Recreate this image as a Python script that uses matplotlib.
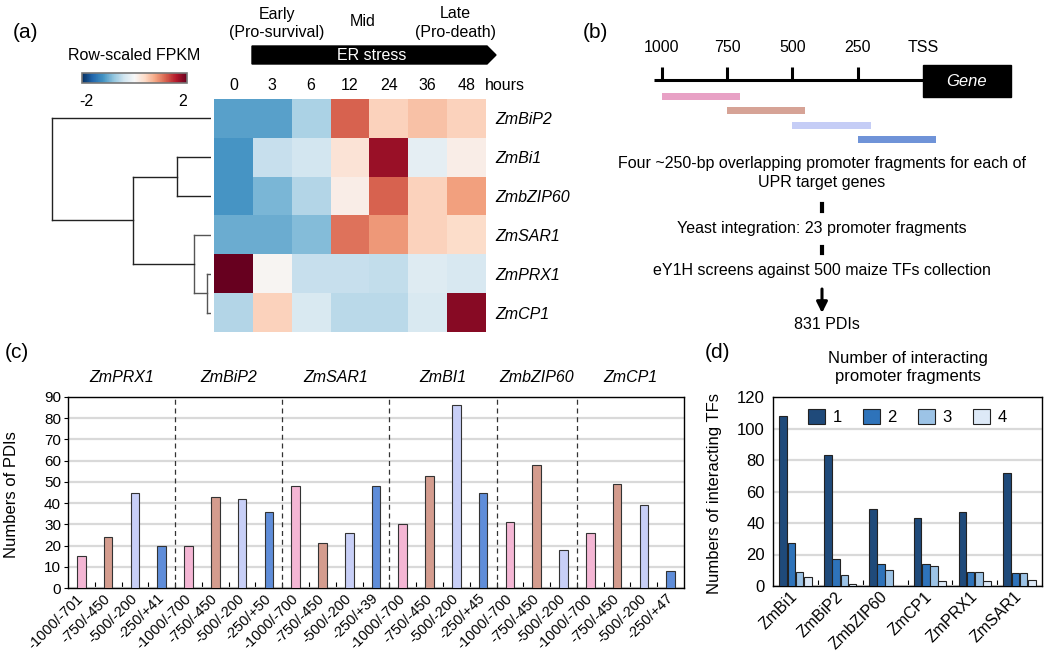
import matplotlib
matplotlib.use("Agg")
import matplotlib.pyplot as plt
import matplotlib.transforms as mtrans
import numpy as np
from matplotlib.patches import Polygon, Rectangle

plt.rcParams["font.family"] = ["Liberation Sans", "DejaVu Sans"]
plt.rcParams["axes.unicode_minus"] = False

# ---------------- data ----------------
# (a) heatmap, row-scaled FPKM
hm_genes = ["ZmBiP2", "ZmBi1", "ZmbZIP60", "ZmSAR1", "ZmPRX1", "ZmCP1"]
hm_hours = ["0", "3", "6", "12", "24", "36", "48"]
hm_values = np.array([
    [-1.2, -1.2, -0.7, 1.3, 0.5, 0.65, 0.5],
    [-1.3, -0.5, -0.4, 0.3, 1.9, -0.2, 0.15],
    [-1.3, -1.0, -0.65, 0.15, 1.3, 0.5, 0.9],
    [-1.1, -1.1, -0.95, 1.2, 0.95, 0.5, 0.4],
    [2.2, 0.05, -0.5, -0.5, -0.55, -0.28, -0.35],
    [-0.65, 0.5, -0.33, -0.6, -0.6, -0.33, 2.0],
])
# dendrogram merges (child a, child b, height); leaves 0-5, new nodes from 6
dendro_merges = [(4, 5, 0.025), (3, 6, 0.108), (1, 2, 0.215), (8, 7, 0.49), (0, 9, 1.0)]
stages = ["Early\n(Pro-survival)", "Mid", "Late\n(Pro-death)"]

# (b) promoter fragments (bp relative to TSS)
scale_ticks = [-1000, -750, -500, -250, 0]
scale_labels = ["1000", "750", "500", "250", "TSS"]
frag_start = [-1000, -750, -500, -250]
frag_end = [-700, -450, -200, 50]
frag_colors = ["#e8a1c5", "#d6a396", "#c5cdf6", "#6f93d8"]
flow_steps = [
    "Four ~250-bp overlapping promoter fragments for each of\nUPR target genes",
    "Yeast integration: 23 promoter fragments",
    "eY1H screens against 500 maize TFs collection",
    "831 PDIs",
]

# (c) PDIs per promoter fragment
c_genes = ["ZmPRX1", "ZmBiP2", "ZmSAR1", "ZmBI1", "ZmbZIP60", "ZmCP1"]
c_labels = [
    ["-1000/-701", "-750/-450", "-500/-200", "-250/+41"],
    ["-1000/-700", "-750/-450", "-500/-200", "-250/+50"],
    ["-1000/-700", "-750/-450", "-500/-200", "-250/+39"],
    ["-1000/-700", "-750/-450", "-500/-200", "-250/+45"],
    ["-1000/-700", "-750/-450", "-500/-200"],
    ["-1000/-700", "-750/-450", "-500/-200", "-250/+47"],
]
c_pdis = [[15, 24, 45, 20], [20, 43, 42, 36], [48, 21, 26, 48],
          [30, 53, 86, 45], [31, 58, 18], [26, 49, 39, 8]]
c_colors = ["#f4b6d4", "#d49c8e", "#c8cff7", "#5f8dd9"]

# (d) interacting TFs by number of fragments bound
d_genes = ["ZmBi1", "ZmBiP2", "ZmbZIP60", "ZmCP1", "ZmPRX1", "ZmSAR1"]
d_n1 = [108, 83, 49, 43, 47, 72]
d_n2 = [27, 17, 14, 14, 9, 8]
d_n3 = [9, 7, 10, 13, 9, 8]
d_n4 = [6, 1, 0, 3, 3, 4]
d_series = ["1", "2", "3", "4"]
d_colors = ["#1f4a7a", "#2e73ba", "#9cc3e6", "#dde9f7"]

# ---------------- layout helpers (pixel boxes) ----------------
W, H = 1050, 669
fig = plt.figure(figsize=(W / 100, H / 100), dpi=100)


def box(x0, y0, x1, y1):
    return [x0 / W, 1 - y1 / H, (x1 - x0) / W, (y1 - y0) / H]


def ftext(x, y, s, **kw):
    fig.text(x / W, 1 - y / H, s, **kw)


ov = fig.add_axes([0, 0, 1, 1])
ov.set_xlim(0, W)
ov.set_ylim(H, 0)
ov.axis("off")

# panel letters
for lab, (px, py) in zip(["(a)", "(b)", "(c)", "(d)"],
                         [(25, 33), (595, 33), (17, 353), (718, 353)]):
    ftext(px, py, lab, fontsize=15, ha="center", va="center")

# ---------------- (a) ----------------
axh = fig.add_axes(box(214, 99, 486, 332))
im = axh.imshow(hm_values, cmap="RdBu_r", vmin=-2.2, vmax=2.2, aspect="auto")
axh.set_xticks([])
axh.set_yticks(range(len(hm_genes)))
axh.set_yticklabels(hm_genes, style="italic", fontsize=11.5)
axh.yaxis.tick_right()
axh.tick_params(axis="y", length=0, pad=7)
for s in axh.spines.values():
    s.set_visible(False)
tr = mtrans.blended_transform_factory(axh.transData, axh.transAxes)
for i, h in enumerate(hm_hours):
    axh.text(i, 1.056, h, transform=tr, ha="center", va="center", fontsize=11.5)
axh.text(len(hm_hours) - 0.52, 1.056, "hours", transform=tr, ha="left",
         va="center", fontsize=11.5)

# dendrogram
axd0 = fig.add_axes(box(40, 99, 211, 332))
axd0.set_xlim(1.075, 0)
axd0.set_ylim(len(hm_genes) - 0.5, -0.5)
axd0.axis("off")
ypos = {i: float(i) for i in range(len(hm_genes))}
hgt = {i: 0.0 for i in range(len(hm_genes))}
for k, (a, b, h) in enumerate(dendro_merges):
    node = len(hm_genes) + k
    col = "#222222" if h > 0.2 else "#555555"
    for c in (a, b):
        axd0.plot([hgt[c], h], [ypos[c], ypos[c]], color=col, lw=1.0)
    axd0.plot([h, h], [ypos[a], ypos[b]], color=col, lw=1.0)
    ypos[node] = (ypos[a] + ypos[b]) / 2
    hgt[node] = h

# colour key
cax = fig.add_axes(box(82, 73, 187, 83))
cb = fig.colorbar(im, cax=cax, orientation="horizontal", ticks=[-2, 2])
cb.ax.tick_params(length=0, pad=8, labelsize=11.5)
cb.outline.set_edgecolor("#777777")
cb.outline.set_linewidth(1.2)
ftext(134, 55, "Row-scaled FPKM", fontsize=11.5, ha="center", va="center")

# ER stress arrow and stages
ov.add_patch(Polygon([(252, 46), (487, 46), (496, 55), (487, 64), (252, 64)],
                     closed=True, color="black"))
ftext(372, 55, "ER stress", fontsize=11.5, color="white", ha="center", va="center")
for s, (px, py) in zip(stages, [(277, 23), (363, 22), (455, 23)]):
    ftext(px, py, s, fontsize=11.5, ha="center", va="center", linespacing=1.25)

# ---------------- (b) ----------------
axb = fig.add_axes(box(640, 40, 1030, 150))
axb.set_xlim((640 - 923) / 0.2614, (1030 - 923) / 0.2614)
axb.set_ylim(150, 40)
axb.axis("off")
axb.plot([scale_ticks[0] - 30, scale_ticks[-1]], [80, 80], color="black", lw=2.2,
         solid_capstyle="butt")
axb.vlines(scale_ticks[:-1], 67, 80, color="black", lw=2.2)
for t, l in zip(scale_ticks, scale_labels):
    axb.text(t, 48, l, ha="center", va="center", fontsize=11.5)
axb.add_patch(Rectangle((0, 65), 337, 32, color="black"))
axb.text(168, 81, "Gene", color="white", style="italic", fontsize=12,
         ha="center", va="center")
frag_rows = 96 + 14.5 * np.arange(len(frag_start))
axb.barh(frag_rows, np.array(frag_end) - np.array(frag_start), left=frag_start,
         height=7, color=frag_colors)

ftext(822, 173, flow_steps[0], fontsize=11.5, ha="center", va="center", linespacing=1.3)
ftext(822, 228, flow_steps[1], fontsize=11.5, ha="center", va="center")
ftext(822, 271, flow_steps[2], fontsize=11.5, ha="center", va="center")
ftext(827, 324, flow_steps[3], fontsize=11.5, ha="center", va="center")
ov.plot([822, 822], [204, 211], color="black", lw=3)
ov.plot([822, 822], [247, 253], color="black", lw=3)
ov.annotate("", xy=(822, 313), xytext=(822, 289),
            arrowprops=dict(arrowstyle="-|>", color="black", lw=2.2,
                            mutation_scale=16, shrinkA=0, shrinkB=0))

# ---------------- (c) ----------------
axc = fig.add_axes(box(68, 397, 684, 588))
heights, labels, cols, sizes = [], [], [], []
for vals, labs in zip(c_pdis, c_labels):
    heights += vals
    labels += labs
    cols += c_colors[:len(vals)]
    sizes.append(len(vals))
x = np.arange(len(heights))
axc.bar(x, heights, width=0.32, color=cols, edgecolor="#333333", linewidth=0.8, zorder=3)
axc.set_xlim(-0.5, len(heights) - 0.5)
axc.set_ylim(0, 90)
axc.set_yticks(range(0, 91, 10))
axc.yaxis.grid(True, color="#d9d9d9", lw=1.6)
axc.set_axisbelow(True)
bounds = np.cumsum(sizes)
for b in bounds[:-1]:
    axc.axvline(b - 0.5, color="#333333", lw=0.9, ls=(0, (4, 3)), zorder=2)
starts = np.concatenate([[0], bounds[:-1]])
trc = mtrans.blended_transform_factory(axc.transData, axc.transAxes)
for g, s0, n in zip(c_genes, starts, sizes):
    axc.text(s0 + (n - 1) / 2, 1.10, g, transform=trc, ha="center", va="center",
             style="italic", fontsize=11.5)
axc.set_xticks(x)
axc.set_xticklabels(labels, rotation=45, ha="right", rotation_mode="anchor",
                    va="center", fontsize=10.5)
axc.set_xticks(np.arange(0.5, len(heights) - 1), minor=True)
axc.tick_params(axis="x", which="major", length=0, pad=6)
axc.tick_params(axis="x", which="minor", direction="in", length=4, width=0.8)
axc.tick_params(axis="y", length=3, width=0.8, labelsize=11, pad=2)
axc.set_ylabel("Numbers of PDIs", fontsize=12)
axc.yaxis.set_label_coords(-0.08, 0.49)
for s in axc.spines.values():
    s.set_linewidth(1.0)

# ---------------- (d) ----------------
axd = fig.add_axes(box(773, 397, 1042, 586))
xg = np.arange(len(d_genes))
for j, (vals, col, lab) in enumerate(zip([d_n1, d_n2, d_n3, d_n4], d_colors, d_series)):
    vals = np.array(vals)
    axd.bar(xg + (j - 1.5) * 0.183, vals, width=0.17, color=col,
            edgecolor=["#222222" if v > 0 else "none" for v in vals],
            linewidth=0.8, label=lab, zorder=3)
axd.set_xlim(-0.5, len(d_genes) - 0.5)
axd.set_ylim(0, 120)
axd.set_yticks(range(0, 121, 20))
axd.yaxis.grid(True, color="#d9d9d9", lw=1.6)
axd.set_axisbelow(True)
axd.set_xticks(xg)
axd.set_xticklabels(d_genes, rotation=45, ha="right", rotation_mode="anchor",
                    va="center", fontsize=11.5)
axd.set_xticks(np.arange(0.5, len(d_genes) - 1), minor=True)
axd.tick_params(axis="x", which="major", length=0, pad=6)
axd.tick_params(axis="x", which="minor", direction="in", length=4, width=0.8)
axd.tick_params(axis="y", length=0, labelsize=12, pad=6)
axd.set_ylabel("Numbers of interacting TFs", fontsize=12)
axd.yaxis.set_label_coords(-0.19, 0.49)
leg = axd.legend(ncol=4, loc="upper center", bbox_to_anchor=(0.5, 1.0), frameon=False,
                 fontsize=12, handlelength=1.0, handleheight=1.0, handletextpad=0.45,
                 columnspacing=1.3, borderaxespad=0.3)
for p in leg.get_patches():
    p.set_edgecolor("#222222")
    p.set_linewidth(0.8)
ftext(908, 368, "Number of interacting\npromoter fragments", fontsize=12,
      ha="center", va="center", linespacing=1.25)
for s in axd.spines.values():
    s.set_linewidth(1.0)

fig.savefig("out.png", dpi=100)
